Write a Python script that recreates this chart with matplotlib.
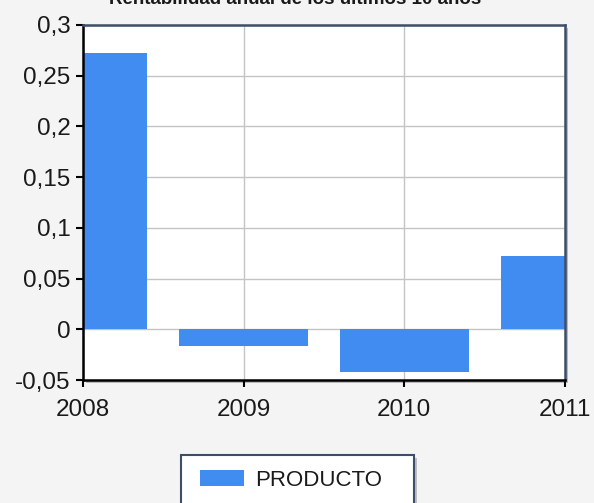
import matplotlib
matplotlib.use("Agg")
import matplotlib.pyplot as plt
from matplotlib.patches import Rectangle, Patch

years = [2008, 2009, 2010, 2011]
values = [0.272, -0.016, -0.042, 0.072]
series_name = "PRODUCTO"
title = "Rentabilidad anual de los últimos 10 años"
yticks = [-0.05, 0, 0.05, 0.1, 0.15, 0.2, 0.25, 0.3]
ytick_labels = ["-0,05", "0", "0,05", "0,1", "0,15", "0,2", "0,25", "0,3"]
xtick_labels = ["2008", "2009", "2010", "2011"]

W, H = 594, 503
plt.rcParams['font.family'] = ['Liberation Sans', 'DejaVu Sans']
fig = plt.figure(figsize=(W / 100, H / 100), dpi=100, facecolor='#f4f4f4')

l, r, t, b = 83, 565, 25, 380
# shadow behind axes
shadow = Rectangle(((l + 3) / W, 1 - (b + 3) / H), (r - l) / W, (b - t) / H,
                   transform=fig.transFigure, facecolor='#b8b8b8',
                   edgecolor='none', zorder=-5)
fig.patches.append(shadow)
ax = fig.add_axes([l / W, 1 - b / H, (r - l) / W, (b - t) / H])
ax.set_zorder(2)
ax.set_facecolor('white')

bar_color = '#418cf0'
ax.bar(years, values, width=0.8, color=bar_color, zorder=2)

ax.set_xlim(2008, 2011)
ax.set_ylim(-0.05, 0.3)
ax.set_xticks(years)
ax.set_xticklabels(xtick_labels)
ax.set_yticks(yticks)
ax.set_yticklabels(ytick_labels)
ax.grid(True, color='#c4c4c4', linewidth=1.0, zorder=0)
ax.set_axisbelow(True)

ax.tick_params(axis='both', direction='out', length=5, width=1.5, colors='black',
               labelsize=17.5, labelcolor='#1a1a1a')
ax.tick_params(axis='y', pad=4)
ax.tick_params(axis='x', pad=9)
ax.tick_params(top=False, right=False)

for s in ['left', 'bottom']:
    ax.spines[s].set_color('black')
    ax.spines[s].set_linewidth(1.8)
for s in ['top', 'right']:
    ax.spines[s].set_color('#3c4e6a')
    ax.spines[s].set_linewidth(1.8)

# title (partially cut off at top, as in the reference)
fig.text(295 / W, 1 - 4 / H, title, ha='center', va='baseline',
         fontsize=13.5, fontweight='bold', color='#1a1a1a')

# legend frame with shadow
lx, ly, lw, lh = 181, 455, 233, 70
fig.patches.append(Rectangle(((lx + 3) / W, 1 - (ly + 3 + lh) / H), lw / W, lh / H,
                             transform=fig.transFigure, facecolor='#bdbdbd',
                             edgecolor='none', zorder=-4))
fig.patches.append(Rectangle((lx / W, 1 - (ly + lh) / H), lw / W, lh / H,
                             transform=fig.transFigure, facecolor='white',
                             edgecolor='#3c4e6a', linewidth=1.5, zorder=-3))
handle = Patch(facecolor=bar_color, edgecolor='none')
leg = fig.legend([handle], [series_name], loc='center left',
                 bbox_to_anchor=(200 / W, 1 - 480 / H), frameon=False,
                 borderpad=0, borderaxespad=0, fontsize=16,
                 handlelength=2.0, handleheight=0.75, handletextpad=0.5)
for txt in leg.get_texts():
    txt.set_color('#1a1a1a')
leg.set_zorder(5)

fig.savefig('out.png', dpi=100, facecolor=fig.get_facecolor())
